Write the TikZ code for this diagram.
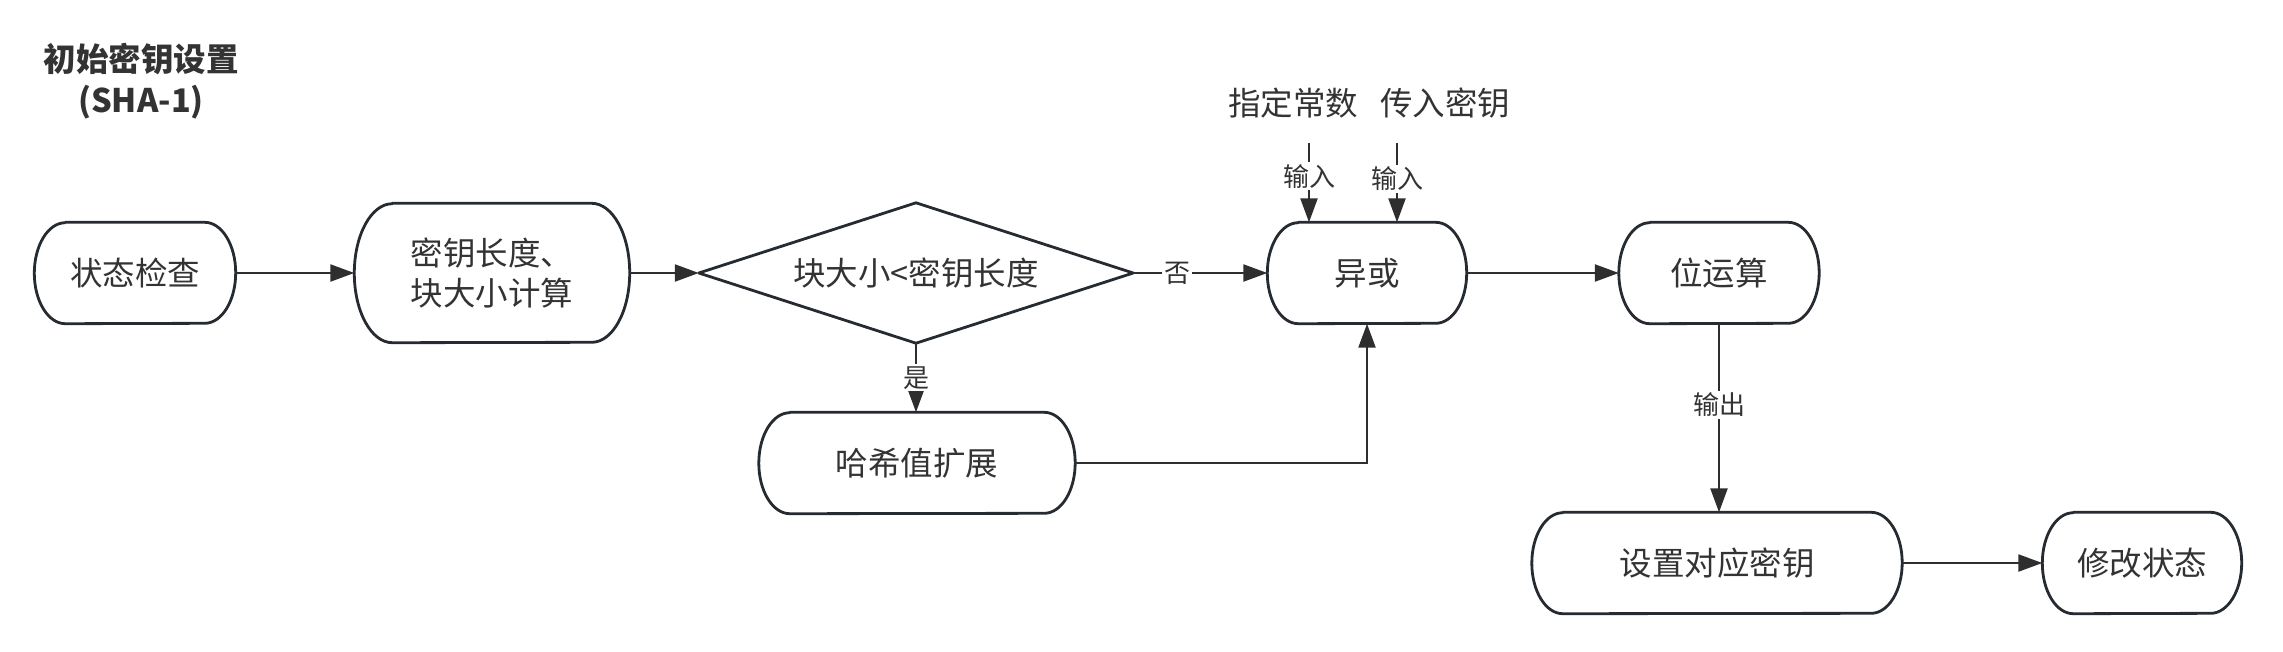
\documentclass[tikz,border=0pt]{standalone}
\usepackage{fontspec}
\setmainfont{Noto Sans CJK SC}
\usetikzlibrary{arrows.meta}
\definecolor{ink}{HTML}{333333}
\definecolor{edgec}{HTML}{252B31}
\definecolor{connc}{HTML}{2E2E2E}
\tikzset{
 txt/.style={inner sep=0pt, text=ink, font=\fontsize{32.5}{40}\selectfont, align=center},
 boxline/.style={draw=edgec, line width=2.8pt, line join=round},
 conn/.style={draw=connc, line width=2.3pt, -{Triangle[length=24pt,width=17pt]}},
 lbl/.style={fill=white, inner sep=2pt, text=ink, font=\fontsize{26}{30}\selectfont},
 titlestyle/.style={inner sep=0pt, text=ink, font=\fontsize{32.5}{41}\selectfont\bfseries, align=center},
}
% #1 name, #2 centre, #3 width, #4 height, #5 end radius (horizontal), #6 text
\newcommand\termnode[6]{%
 \node[txt, minimum width=#3, minimum height=#4] (#1) at (#2) {#6};
 \draw[boxline] ([xshift=#5]#1.north west) -- ([xshift=-#5]#1.north east)
   arc[start angle=90, end angle=-90, x radius=#5*1pt, y radius=#4/2*1pt]
   -- ([xshift=#5]#1.south west)
   arc[start angle=270, end angle=90, x radius=#5*1pt, y radius=#4/2*1pt] -- cycle;
}
\begin{document}
\begin{tikzpicture}[x=1pt,y=-1pt]
\useasboundingbox (0,0) rectangle (2283,651);
\node[titlestyle] (title) at (141,81) {初始密钥设置\\(SHA-1)};

\termnode{check}{135,273}{201}{101}{31}{状态检查}
\termnode{klen}{492,273}{275}{139}{38}{密钥长度、\\块大小计算}
\node[txt, minimum width=434, minimum height=140] (dec) at (916,273) {块大小<密钥长度};
\draw[boxline] (dec.north) -- (dec.east) -- (dec.south) -- (dec.west) -- cycle;
\termnode{xor}{1367,273}{199}{101}{31}{异或}
\termnode{bit}{1719,273}{200}{101}{31}{位运算}
\termnode{hash}{917,463}{316}{101}{31}{哈希值扩展}
\termnode{setk}{1717,563}{370}{101}{31}{设置对应密钥}
\termnode{mod}{2142,563}{199}{101}{31}{修改状态}

\node[txt] (c1) at (1293,103) {指定常数};
\node[txt] (c2) at (1445,103) {传入密钥};
\coordinate (in1) at (1309,143);
\coordinate (in2) at (1397,143);

\draw[conn] (check.east) -- (klen.west);
\draw[conn] (klen.east) -- (dec.west);
\draw[conn] (dec.east) -- node[lbl, pos=0.33] {否} (xor.west);
\draw[conn] (dec.south) -- node[lbl] {是} (dec.south |- hash.north);
\draw[conn] (hash.east) -| (xor.south);
\draw[conn] (in1) -- node[lbl, pos=0.42] {输入} (in1 |- xor.north);
\draw[conn] (in2) -- node[lbl, pos=0.45] {输入} (in2 |- xor.north);
\draw[conn] (xor.east) -- (bit.west);
\draw[conn] (bit.south) -- node[lbl, pos=0.43] {输出} (bit.south |- setk.north);
\draw[conn] (setk.east) -- (mod.west);
\end{tikzpicture}
\end{document}
